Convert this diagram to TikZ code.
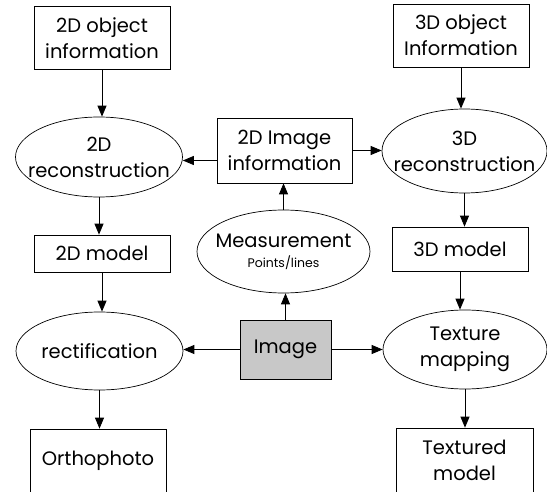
\documentclass[tikz,border=0pt]{standalone}
\usepackage{fontspec}
\setmainfont{Poppins}
\usetikzlibrary{shapes.geometric, arrows.meta}

\definecolor{imggray}{RGB}{200,200,200}

\tikzset{
    box/.style={draw, rectangle, align=center, inner sep=2pt, minimum width=136pt},
    oval/.style={draw, ellipse, align=center, inner xsep=-25pt, inner ysep=0pt},
    arr/.style={-{Triangle[length=11pt,width=9pt]}, line width=0.9pt},
}

\begin{document}
\begin{tikzpicture}[x=1pt, y=-1pt, line width=0.7pt, font=\fontsize{19.5}{26}\selectfont]
    \clip (0,0) rectangle (547,492);
    \fill[white] (0,0) rectangle (547,492);

    % left column
    \node[box, minimum height=63pt] (obj2d) at (102,38) {2D object\\information};
    \node[oval, minimum width=167pt, minimum height=80pt] (recon2d) at (99,157) {2D\\reconstruction};
    \node[box, minimum height=37pt] (model2d) at (102,253.5) {2D model};
    \node[oval, minimum width=167pt, minimum height=78pt] (rect) at (99.5,351) {rectification};
    \node[box, minimum height=63pt] (ortho) at (98,460.5) {Orthophoto};

    % middle column
    \node[box, minimum width=135pt, minimum height=65pt] (img2d) at (284.5,150.5) {2D Image\\information};
    \node[oval, minimum width=173pt, minimum height=83pt] (meas) at (283.5,251.5)
        {Measurement\\[-6pt]{\fontsize{12.5}{14}\selectfont Points/lines}};
    \node[box, fill=imggray, minimum width=91pt, minimum height=59pt] (image) at (285.5,349.5) {Image};

    % right column
    \node[box, minimum height=63pt] (obj3d) at (461,35.5) {3D object\\Information};
    \node[oval, minimum width=165pt, minimum height=84pt] (recon3d) at (464.5,151) {3D\\reconstruction};
    \node[box, minimum height=44pt] (model3d) at (460,249) {3D model};
    \node[oval, minimum width=164pt, minimum height=79pt] (texture) at (465,349.5) {Texture\\mapping};
    \node[box, minimum width=137pt, minimum height=64pt] (textured) at (464.5,460) {Textured\\model};

    % connectors
    \draw[arr] (obj2d.south) -- (obj2d.south |- recon2d.north);
    \draw[arr] (recon2d.south) -- (recon2d.south |- model2d.north);
    \draw[arr] (model2d.south) -- (model2d.south |- rect.north);
    \draw[arr] (rect.south) -- (rect.south |- ortho.north);
    \draw[arr] ([yshift=-10pt]img2d.west) -- ([yshift=-10pt]img2d.west -| recon2d.east);
    \draw[arr] (img2d.east) -- (img2d.east -| recon3d.west);
    \draw[arr] (meas.north) -- (meas.north |- img2d.south);
    \draw[arr] (image.north) -- (image.north |- meas.south);
    \draw[arr] (image.west) -- (image.west -| rect.east);
    \draw[arr] (image.east) -- (image.east -| texture.west);
    \draw[arr] (obj3d.south) -- (obj3d.south |- recon3d.north);
    \draw[arr] (recon3d.south) -- (recon3d.south |- model3d.north);
    \draw[arr] (model3d.south) -- (model3d.south |- texture.north);
    \draw[arr] (texture.south) -- (texture.south |- textured.north);
\end{tikzpicture}
\end{document}
